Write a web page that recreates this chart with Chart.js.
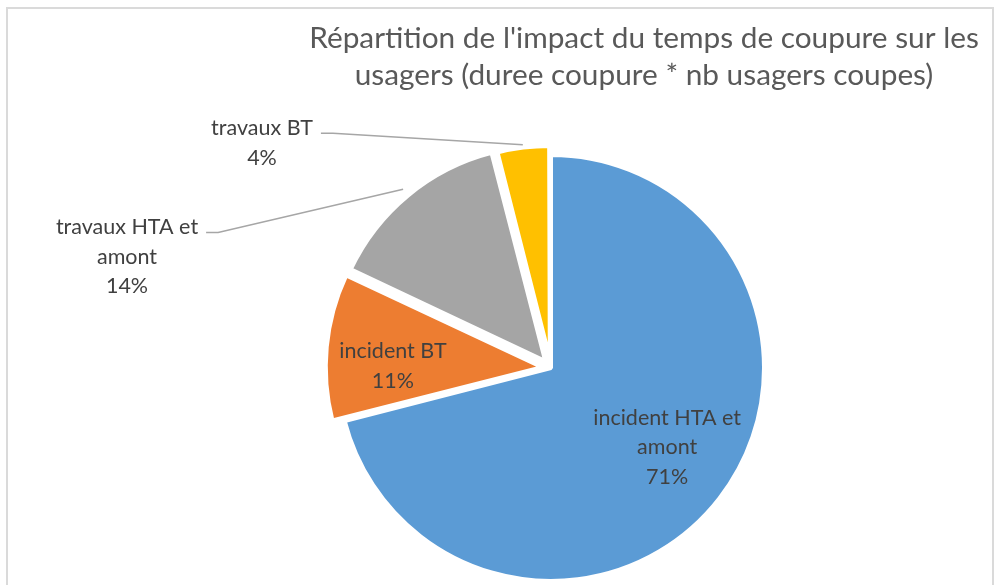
<!DOCTYPE html>
<html>
<head>
<meta charset="utf-8">
<title>Répartition de l'impact du temps de coupure</title>
<script src="https://cdn.jsdelivr.net/npm/chart.js@4.4.0/dist/chart.umd.min.js"></script>
<style>
  body { margin: 0; background: #fff; overflow: hidden; }
  #frame {
    position: absolute; left: 6px; top: 7px; width: 984px; height: 600px;
    border: 2px solid #dadada; border-bottom: none;
  }
  #chart { position: absolute; left: 0; top: 0; }
</style>
</head>
<body>
<div id="frame"></div>
<canvas id="chart" width="994" height="585"></canvas>
<script>
// slices, clockwise from 12 o'clock
const categories = [['incident HTA et', 'amont'], ['incident BT'], ['travaux HTA et', 'amont'], ['travaux BT']];
const shares = [71, 11, 14, 4];
const sliceColors = ['#5B9BD5', '#ED7D31', '#A5A5A5', '#FFC000'];
const titleLines = ["Répartition de l'impact du temps de coupure sur les", 'usagers (duree coupure * nb usagers coupes)'];

// where each data label goes: inside the slice (dist along the bisector, turned a few degrees),
// or off to the left with a leader line
const labelPlacement = [
    { inside: true, dist: 0.66, turn: -3.5 },
    { inside: true, dist: 0.70, turn: -5 },
    { inside: false, dx: -424, dy: -111 },
    { inside: false, dx: -289, dy: -225 }
];

const LABEL_FONT = '21.5px Lato';
const LINE_H = 29.5;
const DEG = Math.PI / 180;

// title drawn by hand, it sits right of the canvas centre
const chartTitle = {
    id: 'chartTitle',
    afterDraw(chart) {
        const ctx = chart.ctx;
        ctx.save();
        ctx.font = '29.8px Lato';
        ctx.fillStyle = '#595959';
        ctx.textAlign = 'center';
        ctx.textBaseline = 'middle';
        ctx.fillText(titleLines[0], 644, 38);
        ctx.fillText(titleLines[1], 644, 75);
        ctx.restore();
    }
};

const sliceLabels = {
    id: 'sliceLabels',
    afterDatasetsDraw(chart) {
        const ctx = chart.ctx;
        const meta = chart.getDatasetMeta(0);
        ctx.save();
        ctx.font = LABEL_FONT;
        ctx.fillStyle = '#404040';
        ctx.textAlign = 'center';
        ctx.textBaseline = 'middle';
        meta.data.forEach((arc, i) => {
            const p = labelPlacement[i];
            const mid = (arc.startAngle + arc.endAngle) / 2;
            // exploded slices are moved by offset / 4 along their bisector
            const shift = (arc.options.offset || 0) / 4;
            const cx = arc.x + Math.cos(mid) * shift;
            const cy = arc.y + Math.sin(mid) * shift;
            const lines = [...chart.data.labels[i], shares[i] + '%'];

            let lx, ly;
            if (p.inside) {
                const a = mid + p.turn * DEG;
                lx = cx + Math.cos(a) * arc.outerRadius * p.dist;
                ly = cy + Math.sin(a) * arc.outerRadius * p.dist;
            } else {
                lx = arc.x + p.dx;
                ly = arc.y + p.dy;
            }
            const top = ly - (lines.length - 1) * LINE_H / 2;
            lines.forEach((t, k) => ctx.fillText(t, lx, top + k * LINE_H));

            if (!p.inside) {
                const w = ctx.measureText(lines[0]).width;
                const sx = lx + w / 2 + 8;
                const sy = top + 5;
                const er = arc.outerRadius + shift + 1;
                ctx.beginPath();
                ctx.moveTo(sx, sy);
                ctx.lineTo(sx + 12, sy);
                ctx.lineTo(cx + Math.cos(mid) * er, cy + Math.sin(mid) * er);
                ctx.strokeStyle = '#a6a6a6';
                ctx.lineWidth = 1.5;
                ctx.stroke();
            }
        });
        ctx.restore();
    }
};

new Chart(document.getElementById('chart'), {
    type: 'pie',
    data: {
        labels: categories,
        datasets: [{
            data: shares,
            backgroundColor: sliceColors,
            borderColor: '#ffffff',
            borderWidth: [4, 4, 4, 5],
            offset: [0, 36, 36, 22]
        }]
    },
    options: {
        responsive: false,
        animation: false,
        events: [],
        radius: 213,
        layout: { padding: { left: 108, right: 0, top: 151, bottom: 0 } },
        plugins: {
            legend: { display: false },
            title: { display: false },
            tooltip: { enabled: false }
        }
    },
    plugins: [chartTitle, sliceLabels]
});
</script>
</body>
</html>
